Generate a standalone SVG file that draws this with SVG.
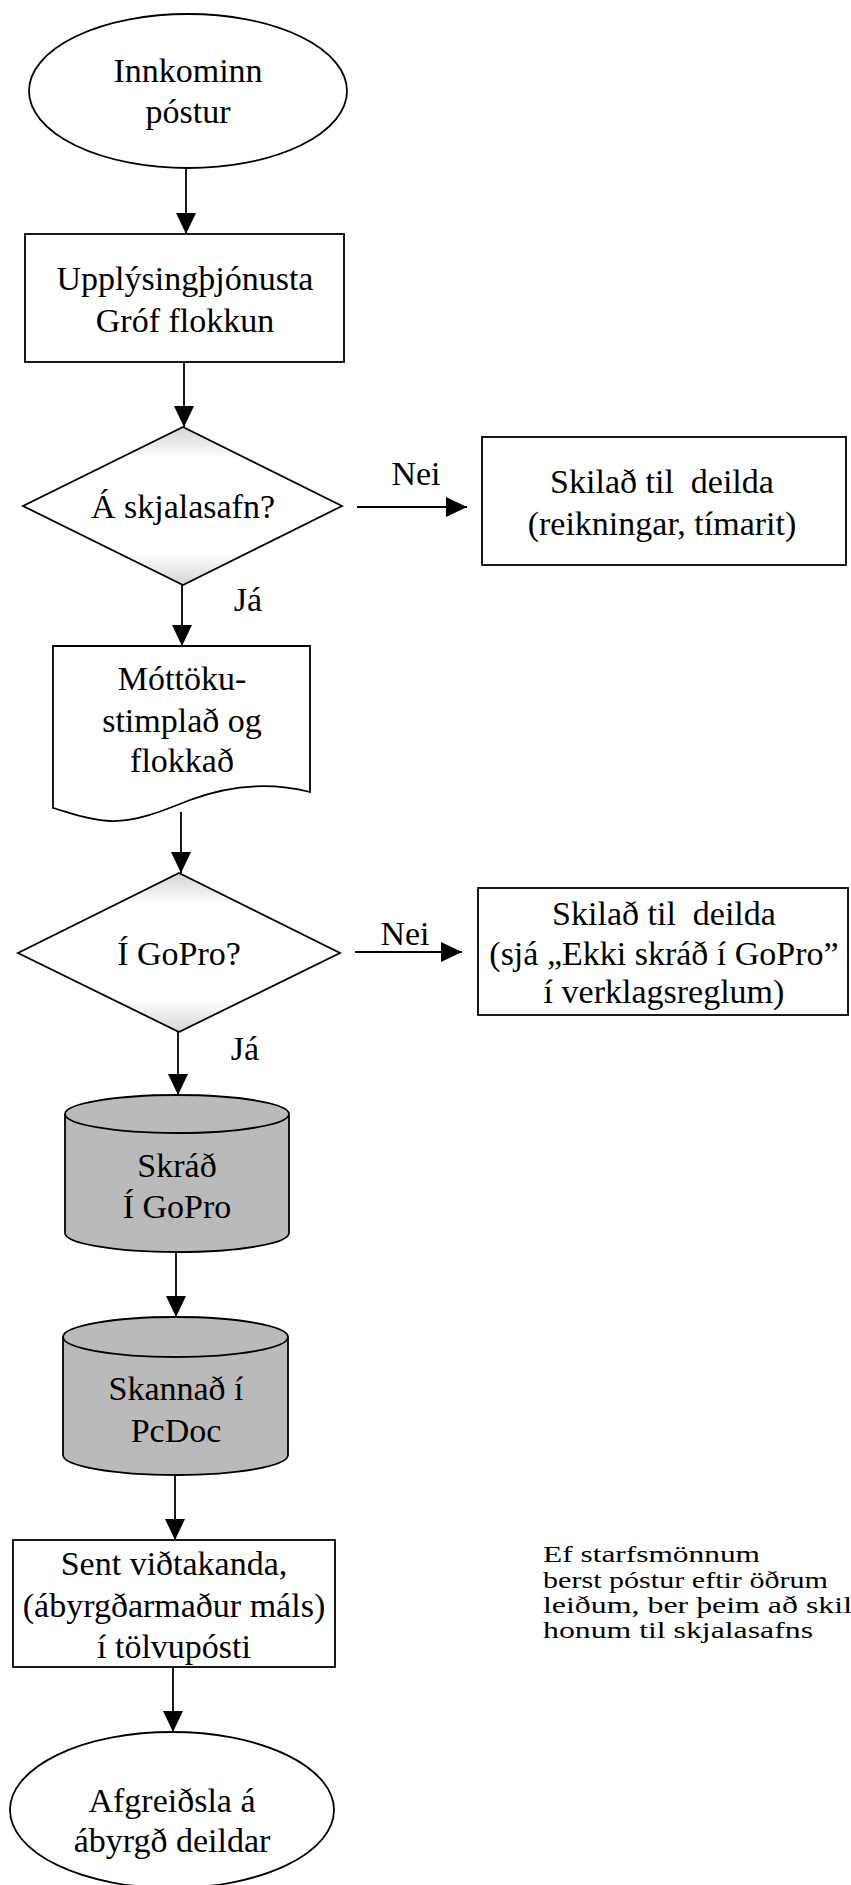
<svg xmlns="http://www.w3.org/2000/svg" width="851" height="1885" viewBox="0 0 851 1885">
<style>
.s{fill:#fff;stroke:#000;stroke-width:1.8}
.c{fill:#bababa;stroke:#000;stroke-width:1.8}
.t{font-family:"Liberation Serif","Times New Roman",serif;font-size:34px;fill:#000;text-anchor:middle;white-space:pre}
.n{font-family:"Liberation Serif","Times New Roman",serif;font-size:23px;fill:#000}
.e{stroke:#000;stroke-width:1.8;fill:none;marker-end:url(#ah)}
</style>
<defs>
<marker id="ah" markerUnits="userSpaceOnUse" markerWidth="21" markerHeight="20" refX="21" refY="10" orient="auto">
<path d="M0,0 L21,10 L0,20 z" fill="#000"/>
</marker>
<linearGradient id="dg" x1="0" y1="0" x2="0" y2="1">
<stop offset="0" stop-color="#d4d4d4"/>
<stop offset="0.2" stop-color="#fff"/>
<stop offset="0.8" stop-color="#fff"/>
<stop offset="1" stop-color="#d4d4d4"/>
</linearGradient>
</defs>
<rect width="851" height="1885" fill="#fff"/>
<g id="connectors">
<line class="e" x1="186" y1="168" x2="186" y2="234"/>
<line class="e" x1="184" y1="362" x2="184" y2="427"/>
<line class="e" x1="182" y1="585" x2="182" y2="646"/>
<line class="e" x1="181" y1="812" x2="181" y2="873"/>
<line class="e" x1="178" y1="1032" x2="178" y2="1095"/>
<line class="e" x1="176" y1="1252" x2="176" y2="1317"/>
<line class="e" x1="175" y1="1475" x2="175" y2="1540"/>
<line class="e" x1="173" y1="1667" x2="173" y2="1732"/>
<line class="e" x1="357" y1="507" x2="467" y2="507"/>
<line class="e" x1="355" y1="952" x2="462" y2="952"/>
<text class="t" x="416" y="485">Nei</text>
<text class="t" x="405" y="945">Nei</text>
<text class="t" x="248" y="611">Já</text>
<text class="t" x="245" y="1060">Já</text>
</g>
<g id="start">
<ellipse class="s" cx="188" cy="91" rx="159" ry="77"/>
<text class="t" x="188" y="82">Innkominn</text>
<text class="t" x="188" y="123">póstur</text>
</g>
<g id="upplysing">
<rect class="s" x="25" y="234" width="319" height="128"/>
<text class="t" x="185" y="290">Upplýsingþjónusta</text>
<text class="t" x="185" y="332">Gróf flokkun</text>
</g>
<g id="d1">
<polygon points="183,427 342,506 183,585 23,506" fill="url(#dg)" stroke="#000" stroke-width="1.8"/>
<text class="t" x="183" y="518">Á skjalasafn?</text>
</g>
<g id="skilad1">
<rect class="s" x="482" y="437" width="364" height="128"/>
<text class="t" x="662" y="493" xml:space="preserve">Skilað til  deilda</text>
<text class="t" x="662" y="535">(reikningar, tímarit)</text>
</g>
<g id="mottoku">
<path class="s" d="M53,646 H310 V792 C270,782 230,785 190,800 C160,812 135,822 110,821 C85,820 68,812 53,808 Z"/>
<text class="t" x="182" y="690">Móttöku-</text>
<text class="t" x="182" y="732">stimplað og</text>
<text class="t" x="182" y="772">flokkað</text>
</g>
<g id="d2">
<polygon points="179,873 340,953 179,1032 18,953" fill="url(#dg)" stroke="#000" stroke-width="1.8"/>
<text class="t" x="179" y="965">Í GoPro?</text>
</g>
<g id="skilad2">
<rect class="s" x="478" y="888" width="370" height="127"/>
<text class="t" x="664" y="925" xml:space="preserve">Skilað til  deilda</text>
<text class="t" x="664" y="965">(sjá „Ekki skráð í GoPro”</text>
<text class="t" x="664" y="1003">í verklagsreglum)</text>
</g>
<g id="skrad">
<path class="c" d="M65,1114 V1233 A112,19 0 0 0 289,1233 V1114"/>
<ellipse class="c" cx="177" cy="1114" rx="112" ry="19"/>
<text class="t" x="177" y="1177">Skráð</text>
<text class="t" x="177" y="1218">Í GoPro</text>
</g>
<g id="skannad">
<path class="c" d="M63,1337 V1455 A112.5,20 0 0 0 288,1455 V1337"/>
<ellipse class="c" cx="175.5" cy="1337" rx="112.5" ry="20"/>
<text class="t" x="176" y="1400">Skannað í</text>
<text class="t" x="176" y="1442">PcDoc</text>
</g>
<g id="sent">
<rect class="s" x="13" y="1540" width="322" height="127"/>
<text class="t" x="174" y="1575">Sent viðtakanda,</text>
<text class="t" x="174" y="1617">(ábyrgðarmaður máls)</text>
<text class="t" x="174" y="1658">í tölvupósti</text>
</g>
<g id="end">
<ellipse class="s" cx="172" cy="1810" rx="162" ry="78"/>
<text class="t" x="172" y="1812">Afgreiðsla á</text>
<text class="t" x="172" y="1852">ábyrgð deildar</text>
</g>
<g id="note">
<text class="n" x="543" y="1562" textLength="217" lengthAdjust="spacingAndGlyphs">Ef starfsmönnum</text>
<text class="n" x="543" y="1588" textLength="285" lengthAdjust="spacingAndGlyphs">berst póstur eftir öðrum</text>
<text class="n" x="543" y="1613" textLength="309" lengthAdjust="spacingAndGlyphs">leiðum, ber þeim að skil</text>
<text class="n" x="543" y="1638" textLength="270" lengthAdjust="spacingAndGlyphs">honum til skjalasafns</text>
</g>
</svg>
